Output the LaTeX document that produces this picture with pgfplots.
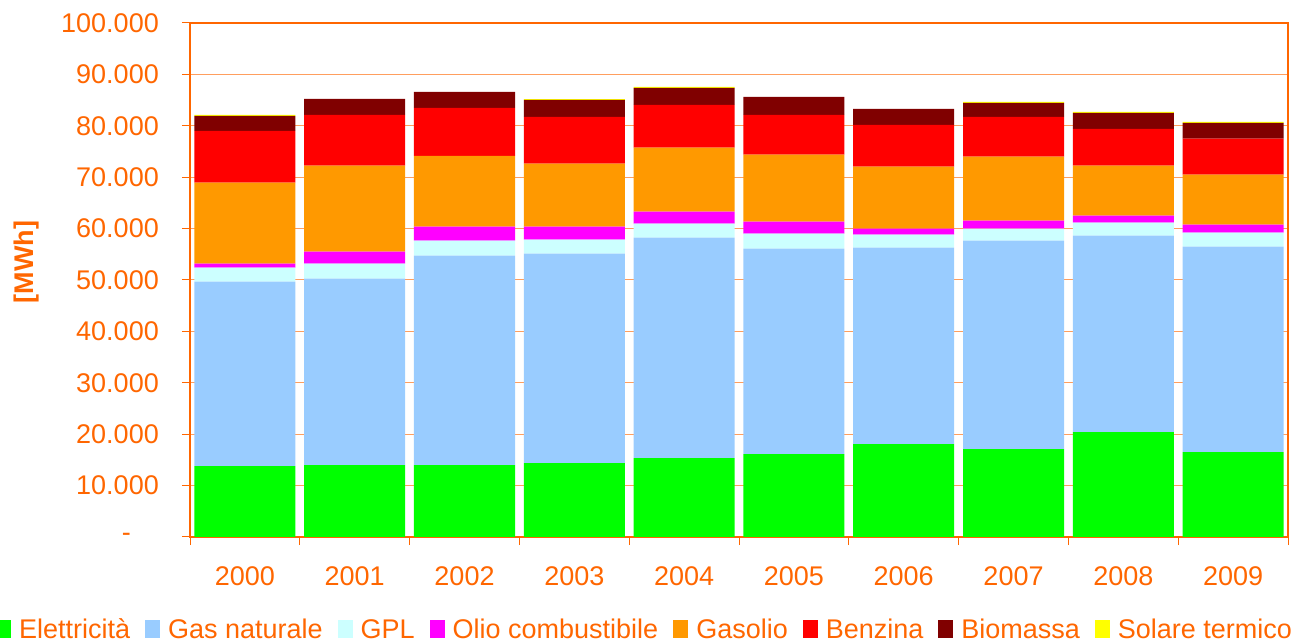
\documentclass[border=0pt]{standalone}
\usepackage{pgfplots}
\usepackage{pgfplotstable}
\pgfplotsset{compat=1.18}
\usepackage{fontspec}
\setmainfont{Liberation Sans}
\definecolor{txt}{HTML}{FF6600}
\definecolor{gridc}{HTML}{FF9E5E}
\definecolor{cE}{HTML}{00FF00}
\definecolor{cG}{HTML}{99CCFF}
\definecolor{cL}{HTML}{CCFFFF}
\definecolor{cO}{HTML}{FF00FF}
\definecolor{cD}{HTML}{FF9900}
\definecolor{cB}{HTML}{FF0000}
\definecolor{cM}{HTML}{800000}
\definecolor{cS}{HTML}{FFFF00}
\newcommand\fs{\fontsize{27bp}{32bp}\selectfont}
\pgfplotstableread{
x E G L O D B M S
0 13800 35900 2730 770 15730 10100 2910 200
1 14000 36290 2910 2330 16700 9900 3110 0
2 14000 40760 2910 2720 13780 9320 3110 0
3 14370 40770 2720 2530 12230 9120 3300 150
4 15340 42910 2720 2330 12430 8340 3310 190
5 16100 40020 2910 2330 13010 7760 3500 0
6 18060 38250 2520 1170 12040 8150 3110 0
7 17090 40580 2330 1550 12430 7760 2730 190
8 20390 38250 2520 1360 9710 7190 3110 190
9 16500 40000 2720 1560 9700 7000 3110 190
}\data
\begin{document}
\begin{tikzpicture}
\useasboundingbox (0,0) rectangle (1308bp,644bp);
\begin{axis}[
 at={(190bp,107bp)}, anchor=south west,
 scale only axis, width=1098bp, height=514bp,
 ybar stacked, bar width=0.92,
 xmin=-0.5, xmax=9.5, ymin=0, ymax=100000,
 scaled y ticks=false,
 xtick={-0.5,0.5,...,9.5}, xticklabels={},
 extra x ticks={0,1,...,9},
 extra x tick labels={2000,2001,2002,2003,2004,2005,2006,2007,2008,2009},
 extra x tick style={major tick length=0pt, grid=none},
 ytick={0,10000,...,100000},
 yticklabels={{\makebox[37bp][l]{-}},10.000,20.000,30.000,40.000,50.000,60.000,70.000,80.000,90.000,100.000},
 tick pos=left, tick align=outside, major tick length=8bp,
 tick style={draw=txt, line width=1bp},
 axis line style={draw=txt, line width=1.5bp},
 ymajorgrids, major grid style={draw=gridc, line width=1bp},
 tick label style={font=\fs, text=txt},
 yticklabel style={anchor=east, inner sep=0pt, xshift=-23bp},
 xticklabel style={anchor=north, inner sep=0pt, yshift=-29bp},
 ylabel={\textbf{[MWh]}},
 ylabel style={font=\fs, text=txt, at={(axis description cs:-0.1485,0.535)}, anchor=center, rotate=0},
 legend columns=8,
 legend style={draw=none, fill=none, font=\fs, text=txt, at={(axis description cs:0.4135,-0.1800)}, anchor=center, inner sep=0pt, outer sep=0pt,
   nodes={inner xsep=0pt, inner ysep=0pt},
   /tikz/every even column/.append style={column sep=15bp}},
 legend image code/.code={\fill[#1] (0bp,-8bp) rectangle (15bp,10bp); \path (23bp,0bp);},
 every axis plot/.append style={draw=none},
]
\addplot[fill=cE] table[x=x,y=E]{\data}; \addlegendentry{Elettricità}
\addplot[fill=cG] table[x=x,y=G]{\data}; \addlegendentry{Gas naturale}
\addplot[fill=cL] table[x=x,y=L]{\data}; \addlegendentry{GPL}
\addplot[fill=cO] table[x=x,y=O]{\data}; \addlegendentry{Olio combustibile}
\addplot[fill=cD] table[x=x,y=D]{\data}; \addlegendentry{Gasolio}
\addplot[fill=cB] table[x=x,y=B]{\data}; \addlegendentry{Benzina}
\addplot[fill=cM] table[x=x,y=M]{\data}; \addlegendentry{Biomassa}
\addplot[fill=cS] table[x=x,y=S]{\data}; \addlegendentry{Solare termico}
\end{axis}
\end{tikzpicture}
\end{document}
